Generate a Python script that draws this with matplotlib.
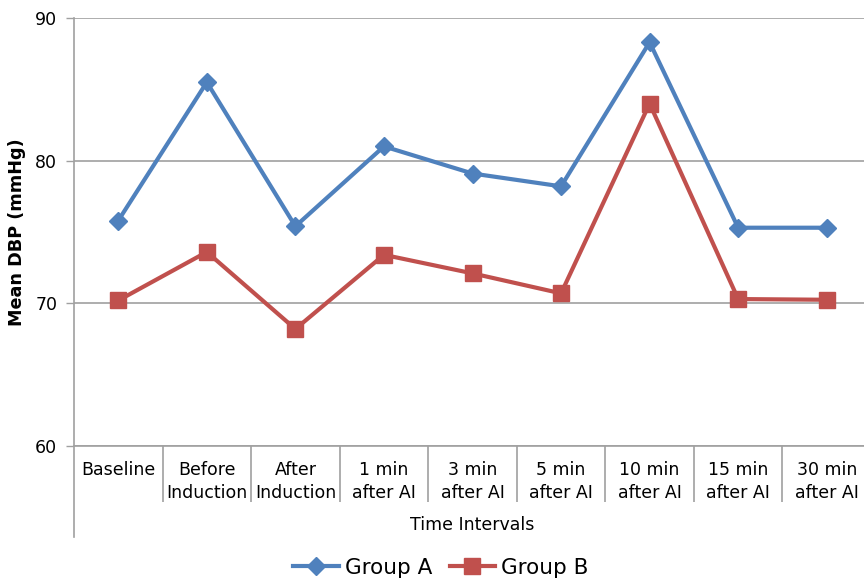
import matplotlib
matplotlib.use("Agg")
import matplotlib.pyplot as plt
import numpy as np

categories = ["Baseline", "Before\nInduction", "After\nInduction", "1 min\nafter AI",
              "3 min\nafter AI", "5 min\nafter AI", "10 min\nafter AI",
              "15 min\nafter AI", "30 min\nafter AI"]
group_a = [75.8, 85.5, 75.4, 81.0, 79.1, 78.2, 88.3, 75.3, 75.3]
group_b = [70.2, 73.6, 68.2, 73.4, 72.1, 70.7, 84.0, 70.3, 70.25]
yticks = [60, 70, 80, 90]

plt.rcParams['font.family'] = ['DejaVu Sans']

W, H = 864, 580
fig = plt.figure(figsize=(W/100, H/100), dpi=100)
left, right, top, bottom = 74, 871, 18, 446
ax = fig.add_axes([left/W, 1 - bottom/H, (right-left)/W, (bottom-top)/H])

x = np.arange(len(categories)) + 0.5
blue = "#4F81BD"
red = "#C0504D"
ax.plot(x, group_a, color=blue, lw=3, marker="D", ms=9, label="Group A", zorder=3)
ax.plot(x, group_b, color=red, lw=3, marker="s", ms=11, label="Group B", zorder=3)

ax.set_xlim(0, len(categories))
ax.set_ylim(60, 90)
ax.set_yticks(yticks)
ax.tick_params(axis="y", labelsize=12.5, length=6, width=1, color="#A0A0A0", pad=6)
ax.yaxis.grid(True, color="#A0A0A0", lw=1.2)
ax.set_axisbelow(True)

ax.set_xticks(x)
ax.set_xticklabels(categories, fontsize=12.5, linespacing=1.35)
ax.tick_params(axis="x", length=0, pad=11)
ax.set_xticks(np.arange(1, len(categories)), minor=True)
ax.tick_params(axis="x", which="minor", length=56*0.72, width=1.2, color="#A0A0A0", direction="out")

for s in ["top", "right"]:
    ax.spines[s].set_visible(False)
ax.spines["bottom"].set_color("#A0A0A0")
ax.spines["bottom"].set_linewidth(1.2)
ax.spines["left"].set_visible(False)
# extended left axis line
ext = (537 - bottom) / (bottom - top)
ax.plot([0, 0], [-ext, 1], transform=ax.get_xaxis_transform(), color="#A0A0A0",
        lw=1.2, clip_on=False, zorder=1)

ax.set_ylabel("Mean DBP (mmHg)", fontsize=12.7, fontweight="bold")
ax.yaxis.set_label_coords(-(74-26)/(right-left), 0.5)
ax.set_xlabel("Time Intervals", fontsize=12.5)
ax.xaxis.set_label_coords(0.5, -(516 - bottom) / (bottom - top))

fig.legend(loc="center", bbox_to_anchor=(441/W, 1 - 568/H), ncol=2, frameon=False,
           fontsize=15.5, handlelength=2.1, columnspacing=0.8, handletextpad=0.3)

fig.savefig("out.png", dpi=100)
